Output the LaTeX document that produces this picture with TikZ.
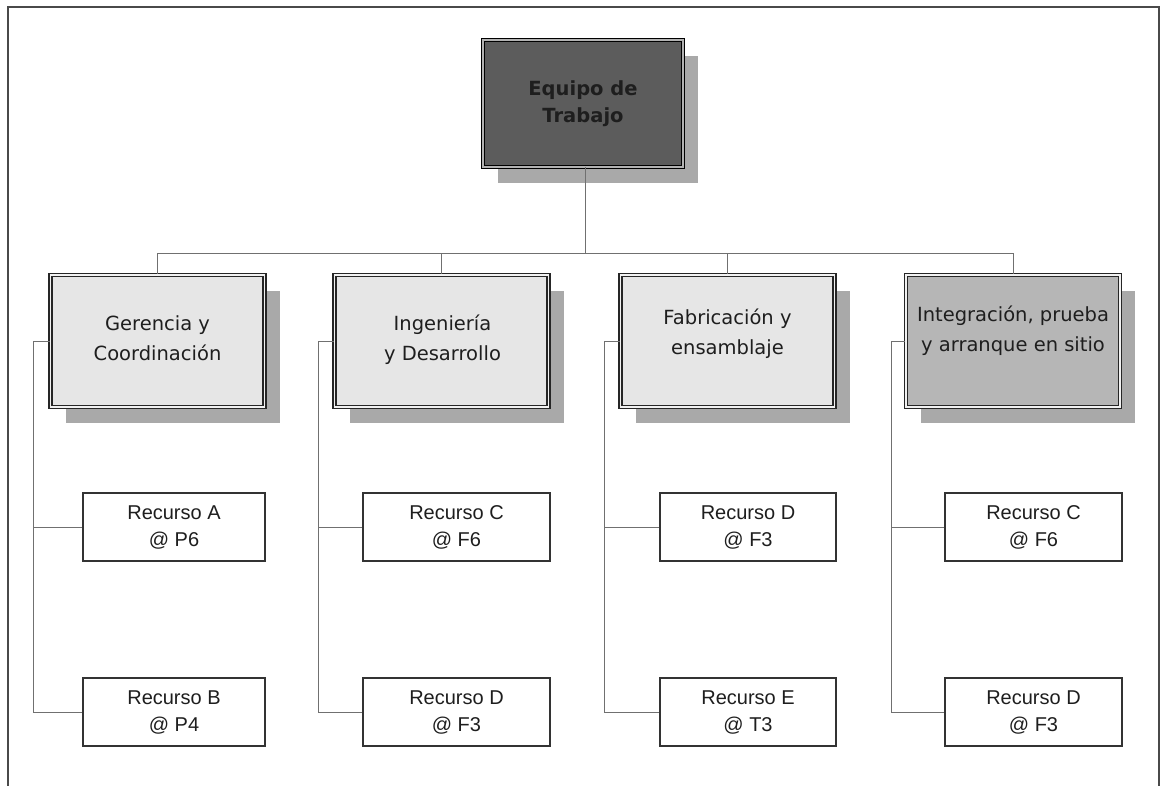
\documentclass[tikz,border=0pt]{standalone}
\usepackage{fontspec}
\setmainfont{DejaVu Sans}
\newfontfamily\arialf{Liberation Sans}
\usetikzlibrary{shadows}
\definecolor{framecol}{HTML}{4A4A4A}
\definecolor{topfill}{HTML}{5C5C5C}
\definecolor{lfill}{HTML}{E6E6E6}
\definecolor{ldark}{HTML}{B6B6B6}
\definecolor{shadowgray}{HTML}{A9A9A9}
\definecolor{conncol}{HTML}{707070}
\definecolor{txt}{HTML}{1E1E1E}
\tikzset{
  shade16/.style={drop shadow={shadow xshift=15pt,shadow yshift=-16pt,fill=shadowgray,opacity=1}},
  topbox/.style={shade16, minimum width=200pt, minimum height=127pt, fill=topfill,
    draw=black, line width=1.8pt, double=gray!60, double distance=1.2pt, inner sep=0pt,
    align=center, text=txt, font=\bfseries\fontsize{19.5}{27}\selectfont},
  lbox/.style={shade16, minimum width=214pt, minimum height=132pt, fill=lfill,
    draw=black!85, line width=1.6pt, double=white!90!gray, double distance=1.3pt, inner sep=0pt},
  ltext/.style={align=center, text=txt, inner sep=0pt, font=\fontsize{19.5}{30}\selectfont},
  resbox/.style={minimum height=68pt, fill=white, draw=black!80, line width=1.4pt, inner sep=0pt,
    align=center, text=txt, font=\arialf\fontsize{20}{27}\selectfont},
  conn/.style={draw=conncol, line width=1pt},
  framel/.style={draw=framecol, line width=2pt}
}
\begin{document}
\begin{tikzpicture}[x=1pt,y=-1pt]
\useasboundingbox (0,0) rectangle (1161,786);
% outer frame
\coordinate (f1) at (8,786);
\coordinate (f2) at (8,7);
\coordinate (f3) at (1159,7);
\coordinate (f4) at (1159,786);
\draw[framel] (f1) -- (f2) -- (f3) -- (f4);
% top
\node[topbox] (top) at (583,103.5) {Equipo de\\Trabajo};
% level 2
\node[lbox] (g1) at (157.5,341) {};
\node[lbox] (g2) at (441.5,341) {};
\node[lbox] (g3) at (727.5,341) {};
\node[lbox, fill=ldark] (g4) at (1013,341) {};
\node[ltext] (g1t) at (157.5,338) {Gerencia y\\Coordinación};
\node[ltext] (g2t) at (442.5,340) {Ingeniería\\y Desarrollo};
\node[ltext] (g3t) at (727.5,334) {Fabricación y\\ensamblaje};
\node[ltext] (g4t) at (1013,331) {Integración, prueba\\y arranque en sitio};
% resources
\node[resbox, minimum width=182pt] (r1a) at (174,527) {Recurso A\\@ P6};
\node[resbox, minimum width=182pt] (r1b) at (174,712) {Recurso B\\@ P4};
\node[resbox, minimum width=187pt] (r2a) at (456.5,527) {Recurso C\\@ F6};
\node[resbox, minimum width=187pt] (r2b) at (456.5,712) {Recurso D\\@ F3};
\node[resbox, minimum width=176pt] (r3a) at (748,527) {Recurso D\\@ F3};
\node[resbox, minimum width=176pt] (r3b) at (748,712) {Recurso E\\@ T3};
\node[resbox, minimum width=177pt] (r4a) at (1033.5,527) {Recurso C\\@ F6};
\node[resbox, minimum width=177pt] (r4b) at (1033.5,712) {Recurso D\\@ F3};
% connectors top -> level 2
\coordinate (bus) at (585,254);
\coordinate (topout) at (585,167);
\draw[conn] (topout) -- (bus);
\draw[conn] (g1.north) -- (g1.north |- bus) -- (g4.north |- bus) -- (g4.north);
\draw[conn] (g2.north) -- (g2.north |- bus);
\draw[conn] (g3.north) -- (g3.north |- bus);
% side connectors
\coordinate (v1) at (33,0);
\coordinate (v2) at (318,0);
\coordinate (v3) at (604,0);
\coordinate (v4) at (891,0);
\draw[conn] (g1.west) -- (g1.west -| v1) |- (r1b.west);
\draw[conn] (r1a.west) -- (r1a.west -| v1);
\draw[conn] (g2.west) -- (g2.west -| v2) |- (r2b.west);
\draw[conn] (r2a.west) -- (r2a.west -| v2);
\draw[conn] (g3.west) -- (g3.west -| v3) |- (r3b.west);
\draw[conn] (r3a.west) -- (r3a.west -| v3);
\draw[conn] (g4.west) -- (g4.west -| v4) |- (r4b.west);
\draw[conn] (r4a.west) -- (r4a.west -| v4);
\end{tikzpicture}
\end{document}
